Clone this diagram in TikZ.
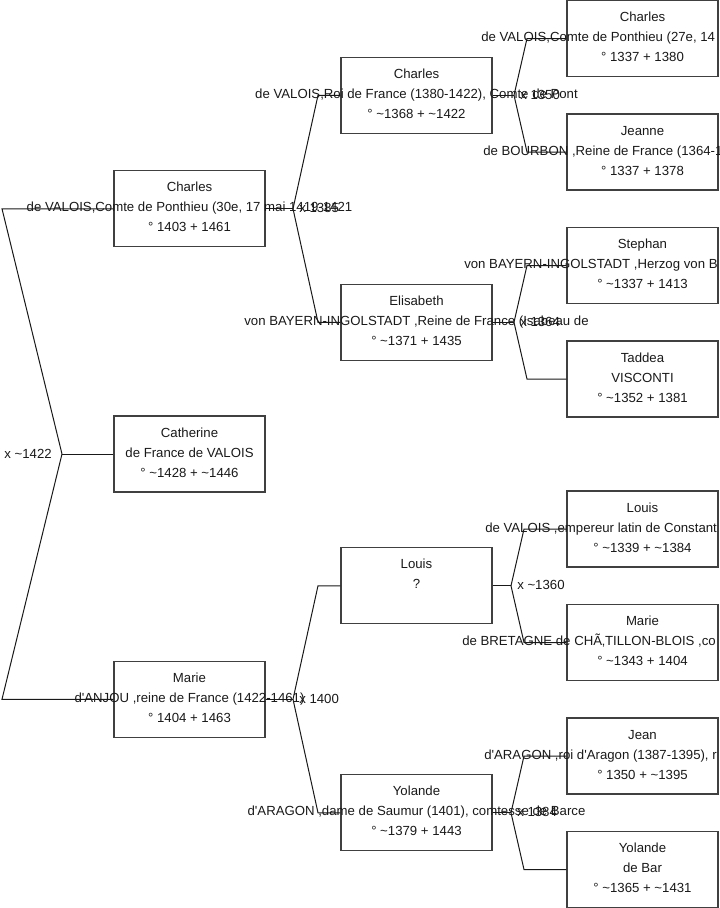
\documentclass[tikz,border=0pt]{standalone}
\usepackage{fontspec}
\setmainfont{Liberation Sans}[Ligatures=TeXOff]
\definecolor{boxline}{gray}{0.25}
\definecolor{linkcol}{gray}{0.10}
\newcommand{\circa}{\textasciitilde}
\tikzset{
  personbox/.style={draw=boxline, line width=0.8pt, minimum width=113.25pt, minimum height=57pt, inner sep=0pt},
  nameline/.style={anchor=base, inner sep=0pt, font=\fontsize{9.9}{12}\selectfont, text=black!90},
  linkline/.style={draw=linkcol, line width=0.75pt},
  marrlabel/.style={anchor=base west, inner sep=0pt, font=\fontsize{9.9}{12}\selectfont, text=black!90}
}
\begin{document}
\begin{tikzpicture}[x=0.75pt, y=-0.75pt]
			\def\xA{189.5}
			\def\xB{416.5}
			\def\xC{642.5}
			\useasboundingbox (0,0) rectangle (719,908);

			% Generation 1
			\node[personbox] (charlesA) at (\xA, 208.75) {};
			\node[nameline] (charlesA-1) at (\xA, 208.75-17) {Charles};
			\node[nameline] (charlesA-2) at (\xA, 208.75+3) {de VALOIS,Comte de Ponthieu (30e, 17 mai 1419-1421};
			\node[nameline] (charlesA-3) at (\xA, 208.75+23) {° 1403 + 1461};

			\node[personbox] (catherine) at (\xA, 454) {};
			\node[nameline] (catherine-1) at (\xA, 454-17) {Catherine};
			\node[nameline] (catherine-2) at (\xA, 454+3) {de France de VALOIS};
			\node[nameline] (catherine-3) at (\xA, 454+23) {° \circa1428 + \circa1446};

			\node[personbox] (marieA) at (\xA, 699.25) {};
			\node[nameline] (marieA-1) at (\xA, 699.25-17) {Marie};
			\node[nameline] (marieA-2) at (\xA, 699.25+3) {d'ANJOU ,reine de France (1422-1461)};
			\node[nameline] (marieA-3) at (\xA, 699.25+23) {° 1404 + 1463};

			% Generation 2
			\node[personbox] (charlesB) at (\xB, 95.25) {};
			\node[nameline] (charlesB-1) at (\xB, 95.25-17) {Charles};
			\node[nameline] (charlesB-2) at (\xB, 95.25+3) {de VALOIS,Roi de France (1380-1422), Comte de Pont};
			\node[nameline] (charlesB-3) at (\xB, 95.25+23) {° \circa1368 + \circa1422};

			\node[personbox] (elisabeth) at (\xB, 322.25) {};
			\node[nameline] (elisabeth-1) at (\xB, 322.25-17) {Elisabeth};
			\node[nameline] (elisabeth-2) at (\xB, 322.25+3) {von BAYERN-INGOLSTADT ,Reine de France (Isabeau de};
			\node[nameline] (elisabeth-3) at (\xB, 322.25+23) {° \circa1371 + 1435};

			\node[personbox] (louisB) at (\xB, 585.75) {};
			\node[nameline] (louisB-1) at (\xB, 585.75-17) {Louis};
			\node[nameline] (louisB-2) at (\xB, 585.75+3) {?};

			\node[personbox] (yolandeB) at (\xB, 812.75) {};
			\node[nameline] (yolandeB-1) at (\xB, 812.75-17) {Yolande};
			\node[nameline] (yolandeB-2) at (\xB, 812.75+3) {d'ARAGON ,dame de Saumur (1401), comtesse de Barce};
			\node[nameline] (yolandeB-3) at (\xB, 812.75+23) {° \circa1379 + 1443};

			% Generation 3
			\node[personbox] (charlesC) at (\xC, 38.5) {};
			\node[nameline] (charlesC-1) at (\xC, 38.5-17) {Charles};
			\node[nameline, anchor=base west] (charlesC-2) at (481, 38.5+3) {de VALOIS,Comte de Ponthieu (27e, 14};
			\node[nameline] (charlesC-3) at (\xC, 38.5+23) {° 1337 + 1380};

			\node[personbox] (jeanne) at (\xC, 152) {};
			\node[nameline] (jeanne-1) at (\xC, 152-17) {Jeanne};
			\node[nameline, anchor=base west] (jeanne-2) at (483, 152+3) {de BOURBON ,Reine de France (1364-1};
			\node[nameline] (jeanne-3) at (\xC, 152+23) {° 1337 + 1378};

			\node[personbox] (stephan) at (\xC, 265.5) {};
			\node[nameline] (stephan-1) at (\xC, 265.5-17) {Stephan};
			\node[nameline, anchor=base west] (stephan-2) at (464, 265.5+3) {von BAYERN-INGOLSTADT ,Herzog von B};
			\node[nameline] (stephan-3) at (\xC, 265.5+23) {° \circa1337 + 1413};

			\node[personbox] (taddea) at (\xC, 379) {};
			\node[nameline] (taddea-1) at (\xC, 379-17) {Taddea};
			\node[nameline] (taddea-2) at (\xC, 379+3) {VISCONTI};
			\node[nameline] (taddea-3) at (\xC, 379+23) {° \circa1352 + 1381};

			\node[personbox] (louisC) at (\xC, 529) {};
			\node[nameline] (louisC-1) at (\xC, 529-17) {Louis};
			\node[nameline, anchor=base west] (louisC-2) at (485, 529+3) {de VALOIS ,empereur latin de Constant};
			\node[nameline] (louisC-3) at (\xC, 529+23) {° \circa1339 + \circa1384};

			\node[personbox] (marieC) at (\xC, 642.5) {};
			\node[nameline] (marieC-1) at (\xC, 642.5-17) {Marie};
			\node[nameline, anchor=base west] (marieC-2) at (462, 642.5+3) {de BRETAGNE de CHÃ‚TILLON-BLOIS ,co};
			\node[nameline] (marieC-3) at (\xC, 642.5+23) {° \circa1343 + 1404};

			\node[personbox] (jean) at (\xC, 756) {};
			\node[nameline] (jean-1) at (\xC, 756-17) {Jean};
			\node[nameline, anchor=base west] (jean-2) at (484, 756+3) {d'ARAGON ,roi d'Aragon (1387-1395), r};
			\node[nameline] (jean-3) at (\xC, 756+23) {° 1350 + \circa1395};

			\node[personbox] (yolandeC) at (\xC, 869.5) {};
			\node[nameline] (yolandeC-1) at (\xC, 869.5-17) {Yolande};
			\node[nameline] (yolandeC-2) at (\xC, 869.5+3) {de Bar};
			\node[nameline] (yolandeC-3) at (\xC, 869.5+23) {° \circa1365 + \circa1431};

			% Forks and bends
			\coordinate (fork0) at (62, 454);
			\coordinate (bend0a) at (2, 208.75);
			\coordinate (bend0b) at (2, 699.25);
			\coordinate (fork1) at (293, 208.75);
			\coordinate (bend1a) at (318, 95.25);
			\coordinate (bend1b) at (318, 322.25);
			\coordinate (fork2) at (293, 699.25);
			\coordinate (bend2a) at (318, 585.75);
			\coordinate (bend2b) at (318, 812.75);
			\coordinate (fork3) at (514, 95.25);
			\coordinate (bend3a) at (527, 38.5);
			\coordinate (bend3b) at (527, 152);
			\coordinate (fork4) at (514, 322.25);
			\coordinate (bend4a) at (527, 265.5);
			\coordinate (bend4b) at (527, 379);
			\coordinate (fork5) at (511, 585.75);
			\coordinate (bend5a) at (524, 529);
			\coordinate (bend5b) at (524, 642.5);
			\coordinate (fork6) at (511, 812.75);
			\coordinate (bend6a) at (524, 756);
			\coordinate (bend6b) at (524, 869.5);

			% Connectors
			\draw[linkline] (catherine.west) -- (fork0);
			\draw[linkline] (fork0) -- (bend0a) -- (charlesA.west);
			\draw[linkline] (fork0) -- (bend0b) -- (marieA.west);
			\draw[linkline] (charlesA.east) -- (fork1);
			\draw[linkline] (fork1) -- (bend1a) -- (charlesB.west);
			\draw[linkline] (fork1) -- (bend1b) -- (elisabeth.west);
			\draw[linkline] (marieA.east) -- (fork2);
			\draw[linkline] (fork2) -- (bend2a) -- (louisB.west);
			\draw[linkline] (fork2) -- (bend2b) -- (yolandeB.west);
			\draw[linkline] (charlesB.east) -- (fork3);
			\draw[linkline] (fork3) -- (bend3a) -- (charlesC.west);
			\draw[linkline] (fork3) -- (bend3b) -- (jeanne.west);
			\draw[linkline] (elisabeth.east) -- (fork4);
			\draw[linkline] (fork4) -- (bend4a) -- (stephan.west);
			\draw[linkline] (fork4) -- (bend4b) -- (taddea.west);
			\draw[linkline] (louisB.east) -- (fork5);
			\draw[linkline] (fork5) -- (bend5a) -- (louisC.west);
			\draw[linkline] (fork5) -- (bend5b) -- (marieC.west);
			\draw[linkline] (yolandeB.east) -- (fork6);
			\draw[linkline] (fork6) -- (bend6a) -- (jean.west);
			\draw[linkline] (fork6) -- (bend6b) -- (yolandeC.west);

			% Marriage labels
			\node[marrlabel, anchor=base east] (marr0) at (52, 454+4) {x \circa1422};
			\node[marrlabel] (marr1) at (299, 208.75+4) {x 1385};
			\node[marrlabel] (marr2) at (299, 699.25+4) {x 1400};
			\node[marrlabel] (marr3) at (520, 95.25+4) {x 1350};
			\node[marrlabel] (marr4) at (520, 322.25+4) {x 1364};
			\node[marrlabel] (marr5) at (517, 585.75+4) {x \circa1360};
			\node[marrlabel] (marr6) at (517, 812.75+4) {x 1384};
		\end{tikzpicture}
\end{document}
